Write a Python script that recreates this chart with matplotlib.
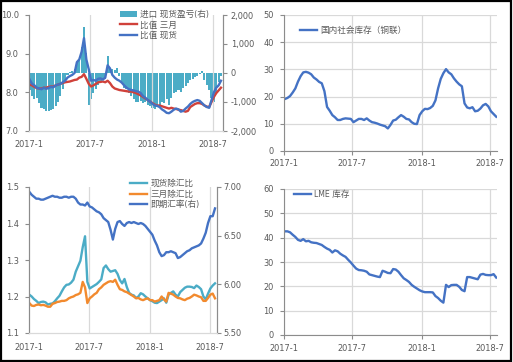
import numpy as np
import pandas as pd
import matplotlib
matplotlib.use("Agg")
import matplotlib.pyplot as plt
from matplotlib import font_manager
from matplotlib.patches import Rectangle
from matplotlib.ticker import FuncFormatter

# pick a narrow latin font if one is there, CJK falls back to Noto
installed = {(f.name, f.stretch) for f in font_manager.fontManager.ttflist}
names = {n for n, s in installed}
if 'Liberation Sans Narrow' in names:
    plt.rcParams['font.family'] = ['Liberation Sans Narrow', 'Noto Sans CJK SC']
    FS = 7.0
elif ('DejaVu Sans', 'condensed') in installed or ('DejaVu Sans', 'semi-condensed') in installed:
    plt.rcParams['font.family'] = ['DejaVu Sans', 'Noto Sans CJK SC']
    plt.rcParams['font.stretch'] = 'condensed'
    FS = 6.6
else:
    plt.rcParams['font.family'] = ['Liberation Sans', 'Noto Sans CJK SC']
    FS = 6.2
LEG_FS = 6.2

# ---- top-left: ratio spot / 3M and import profit (weekly readings) ----
tl_dates = pd.date_range('2017-01-03', periods=82, freq='7D')
ratio_spot = [8.33, 8.22, 8.18, 8.12, 8.10, 8.08, 8.12, 8.09, 8.11, 8.14,
              8.13, 8.18, 8.20, 8.22, 8.26, 8.30, 8.38, 8.42, 8.45, 8.50,
              8.78, 8.85, 9.05, 9.40, 8.85, 8.60, 8.30, 8.32, 8.30, 8.35,
              8.36, 8.33, 8.38, 8.70, 8.62, 8.45, 8.38, 8.33, 8.30, 8.25,
              8.18, 8.12, 8.08, 8.06, 8.05, 8.03, 8.02, 7.98, 7.90, 7.86,
              7.80, 7.76, 7.70, 7.66, 7.65, 7.62, 7.56, 7.52, 7.47, 7.46,
              7.50, 7.55, 7.58, 7.56, 7.50, 7.52, 7.58, 7.63, 7.70, 7.75,
              7.78, 7.80, 7.78, 7.72, 7.66, 7.62, 7.60, 7.80, 8.00, 8.12,
              8.18, 8.30]
ratio_3m = [8.20, 8.18, 8.14, 8.11, 8.10, 8.10, 8.12, 8.12, 8.14, 8.15,
            8.15, 8.18, 8.20, 8.22, 8.24, 8.26, 8.27, 8.28, 8.30, 8.32,
            8.33, 8.38, 8.40, 8.47, 8.35, 8.22, 8.15, 8.18, 8.22, 8.26,
            8.27, 8.28, 8.26, 8.30, 8.24, 8.15, 8.10, 8.08, 8.06, 8.05,
            8.04, 8.03, 8.02, 8.02, 8.00, 7.98, 7.95, 7.92, 7.88, 7.84,
            7.80, 7.76, 7.72, 7.68, 7.66, 7.66, 7.64, 7.62, 7.60, 7.58,
            7.60, 7.58, 7.57, 7.55, 7.54, 7.52, 7.50, 7.52, 7.62, 7.66,
            7.70, 7.72, 7.72, 7.70, 7.66, 7.63, 7.62, 7.75, 7.88, 7.98,
            8.05, 8.12]
import_profit = [-600, -800, -900, -850, -1050, -1200, -1250, -1300, -1300, -1280,
                 -1250, -1150, -1000, -800, -550, -250, -80, 50, 80, 150,
                 350, 500, 900, 1600, 700, -1100, -900, -700, -550, -400,
                 -300, -250, -200, 600, 180, 150, 120, 160, -100, -300,
                 -500, -550, -700, -800, -900, -1000, -1000, -950, -1050, -1000,
                 -1100, -1150, -1200, -1250, -1150, -1100, -1000, -1050, -900, -1100,
                 -850, -700, -650, -600, -650, -500, -450, -350, -250, -200,
                 -150, -100, -50, 60, -250, -400, -600, -850, -1000, -700,
                 -300, -100]

# ---- top-right: domestic social inventory ----
tr_dates = pd.date_range('2017-01-03', periods=81, freq='7D')
social_stock = [19.1, 19.5, 20.2, 21.5, 23.0, 25.5, 27.5, 28.9, 29.1, 28.8,
                28.2, 27.0, 26.3, 25.4, 24.9, 22.0, 16.2, 14.8, 13.2, 12.4,
                11.4, 11.4, 11.8, 12.0, 11.9, 11.8, 10.6, 11.2, 11.8, 11.8,
                11.4, 12.0, 11.2, 10.6, 10.4, 10.1, 9.7, 9.4, 9.1, 8.3,
                9.6, 11.2, 11.5, 12.4, 13.2, 12.6, 11.8, 11.6, 10.6, 10.0,
                9.9, 13.2, 14.6, 15.5, 15.4, 15.8, 16.6, 18.6, 23.0, 26.5,
                28.6, 30.1, 28.9, 28.2, 26.7, 25.5, 24.5, 23.8, 17.5, 16.0,
                15.7, 16.1, 14.6, 14.8, 15.6, 16.8, 17.3, 16.4, 14.6, 13.6,
                12.6]

# ---- bottom-left: ratios ex-FX and spot CNY rate ----
bl_dates = pd.date_range('2017-01-02', periods=81, freq='7D')
spot_fx_ratio = [1.205, 1.200, 1.193, 1.188, 1.182, 1.185, 1.186, 1.184, 1.178, 1.180,
                 1.181, 1.187, 1.195, 1.202, 1.214, 1.225, 1.232, 1.233, 1.238, 1.246,
                 1.268, 1.283, 1.298, 1.335, 1.365, 1.240, 1.222, 1.226, 1.230, 1.234,
                 1.240, 1.247, 1.278, 1.285, 1.275, 1.268, 1.270, 1.272, 1.262, 1.245,
                 1.236, 1.248, 1.226, 1.210, 1.205, 1.203, 1.196, 1.200, 1.209, 1.206,
                 1.200, 1.195, 1.190, 1.187, 1.183, 1.182, 1.186, 1.190, 1.195, 1.183,
                 1.205, 1.210, 1.214, 1.205, 1.200, 1.212, 1.218, 1.224, 1.227, 1.227,
                 1.226, 1.223, 1.230, 1.226, 1.220, 1.200, 1.192, 1.208, 1.222, 1.230,
                 1.236]
m3_fx_ratio = [1.182, 1.175, 1.174, 1.177, 1.178, 1.176, 1.177, 1.175, 1.172, 1.172,
               1.180, 1.182, 1.185, 1.186, 1.188, 1.188, 1.190, 1.195, 1.198, 1.200,
               1.204, 1.206, 1.210, 1.240, 1.225, 1.182, 1.195, 1.200, 1.206, 1.210,
               1.220, 1.225, 1.232, 1.236, 1.240, 1.242, 1.240, 1.246, 1.232, 1.220,
               1.218, 1.214, 1.212, 1.208, 1.204, 1.200, 1.195, 1.196, 1.192, 1.190,
               1.193, 1.195, 1.190, 1.190, 1.186, 1.188, 1.190, 1.200, 1.192, 1.186,
               1.210, 1.208, 1.205, 1.200, 1.196, 1.195, 1.192, 1.190, 1.194, 1.196,
               1.200, 1.205, 1.203, 1.200, 1.198, 1.188, 1.188, 1.196, 1.205, 1.208,
               1.195]
cny_spot = [6.95, 6.92, 6.90, 6.88, 6.88, 6.87, 6.87, 6.88, 6.89, 6.90,
            6.91, 6.90, 6.90, 6.89, 6.89, 6.90, 6.90, 6.89, 6.90, 6.90,
            6.88, 6.84, 6.82, 6.82, 6.81, 6.84, 6.80, 6.79, 6.77, 6.75,
            6.74, 6.72, 6.68, 6.66, 6.64, 6.56, 6.46, 6.57, 6.64, 6.65,
            6.62, 6.60, 6.63, 6.64, 6.63, 6.64, 6.63, 6.62, 6.63, 6.62,
            6.60, 6.57, 6.54, 6.51, 6.45, 6.40, 6.33, 6.29, 6.30, 6.33,
            6.33, 6.34, 6.33, 6.32, 6.27, 6.28, 6.30, 6.32, 6.34, 6.35,
            6.37, 6.38, 6.39, 6.40, 6.42, 6.47, 6.53, 6.63, 6.70, 6.70,
            6.78]

# ---- bottom-right: LME stocks ----
br_dates = pd.date_range('2017-01-03', periods=81, freq='7D')
lme_stock = [42.6, 42.6, 42.2, 41.2, 40.3, 39.1, 38.7, 39.4, 38.5, 38.7,
             38.1, 37.9, 37.8, 37.4, 37.0, 36.2, 35.5, 35.0, 33.9, 34.8,
             34.4, 33.4, 32.7, 32.1, 30.9, 29.8, 28.5, 27.3, 26.7, 26.6,
             26.4, 26.0, 24.9, 24.6, 24.3, 24.0, 23.8, 26.4, 26.0, 25.5,
             25.4, 27.1, 26.9, 26.0, 24.6, 23.3, 22.6, 21.8, 20.6, 19.8,
             19.1, 18.4, 17.9, 17.6, 17.6, 17.6, 17.5, 16.0, 15.2, 14.1,
             13.3, 20.6, 19.7, 20.5, 20.6, 20.6, 19.8, 18.5, 18.0, 23.8,
             23.8, 23.5, 23.2, 22.9, 24.8, 25.1, 24.7, 24.6, 24.6, 25.0,
             23.6]

xticks = pd.to_datetime(['2017-01-01', '2017-07-01', '2018-01-01', '2018-07-01'])
xticklabels = ['2017-1', '2017-7', '2018-1', '2018-7']

TXT = '#595959'
SPINE = '#8c8c8c'
GRID = '#d9d9d9'
BLUE = '#4472C4'
RED = '#D0413A'
AQUA = '#4BACC6'
ORANGE = '#F28A2E'

W, H = 513, 362


def box(l, r, t, b):
    return [l / W, 1 - b / H, (r - l) / W, (b - t) / H]


def style_date_axis(ax, xmax, xlen=0, xpad=7):
    ax.set_xlim(pd.Timestamp('2017-01-01'), pd.Timestamp(xmax))
    ax.set_xticks(xticks)
    ax.set_xticklabels(xticklabels)
    ax.tick_params(axis='x', length=xlen, width=0.8, color=SPINE, pad=xpad,
                   labelsize=FS, colors=TXT)
    ax.tick_params(axis='y', length=3, width=0.8, color=SPINE, labelsize=FS,
                   colors=TXT, pad=4.5)
    ax.spines['top'].set_visible(False)
    for s in ['left', 'right', 'bottom']:
        ax.spines[s].set_color(SPINE)
        ax.spines[s].set_linewidth(0.8)


def add_legend(ax, handles, x, y):
    ax.legend(handles=handles, loc='upper left', bbox_to_anchor=(x, y),
              frameon=False, fontsize=LEG_FS, handlelength=2.0, handletextpad=0.35,
              labelspacing=0.2, borderaxespad=0, borderpad=0, labelcolor=TXT)


fig = plt.figure(figsize=(5.13, 3.62), dpi=100)

# ===== top-left =====
ax1 = fig.add_axes(box(29, 223, 15, 131))
ax1b = ax1.twinx()
ax1.set_zorder(ax1b.get_zorder() + 1)
ax1.patch.set_visible(False)
bars = ax1b.bar(tl_dates, import_profit, width=6.2, color=AQUA, linewidth=0,
                label='进口 现货盈亏(右)')
l_red, = ax1.plot(tl_dates, ratio_3m, color=RED, lw=1.7, label='比值 三月')
l_blue, = ax1.plot(tl_dates, ratio_spot, color=BLUE, lw=1.7, label='比值 现货')
ax1.set_ylim(7.0, 10.0)
ax1.set_yticks([7.0, 8.0, 9.0, 10.0])
ax1.yaxis.set_major_formatter(FuncFormatter(lambda v, p: f'{v:.1f}'))
ax1b.set_ylim(-2000, 2000)
ax1b.set_yticks([-2000, -1000, 0, 1000, 2000])
ax1b.yaxis.set_major_formatter(FuncFormatter(lambda v, p: f'{v:,.0f}'))
style_date_axis(ax1, '2018-07-30', xlen=0, xpad=6.8)
style_date_axis(ax1b, '2018-07-30', xlen=0, xpad=6.8)
ax1.spines['bottom'].set_color(GRID)
ax1b.spines['bottom'].set_color(GRID)
ax1b.tick_params(axis='y', pad=2.5)
for d in xticks[1:]:
    ax1.axvline(d, color=GRID, lw=0.9, zorder=0)
add_legend(ax1, [bars, l_red, l_blue], 0.469, 1.045)

# ===== top-right =====
ax2 = fig.add_axes(box(284, 497, 15, 151))
l_soc, = ax2.plot(tr_dates, social_stock, color=BLUE, lw=1.7, label='国内社会库存（铜联）')
ax2.set_ylim(0, 50)
ax2.set_yticks(range(0, 51, 10))
style_date_axis(ax2, '2018-07-19', xlen=3, xpad=2.5)
ax2.spines['right'].set_visible(False)
ax2.grid(True, color=GRID, lw=0.9)
ax2.set_axisbelow(True)
add_legend(ax2, [l_soc], 0.075, 0.92)

# ===== bottom-left =====
ax3 = fig.add_axes(box(29, 217, 187, 333))
ax3b = ax3.twinx()
l_cny, = ax3b.plot(bl_dates, cny_spot, color=BLUE, lw=1.7, label='即期汇率(右)')
l_aq, = ax3.plot(bl_dates, spot_fx_ratio, color=AQUA, lw=1.7, label='现货除汇比')
l_or, = ax3.plot(bl_dates, m3_fx_ratio, color=ORANGE, lw=1.7, label='三月除汇比')
ax3.set_ylim(1.1, 1.5)
ax3.set_yticks([1.1, 1.2, 1.3, 1.4, 1.5])
ax3.yaxis.set_major_formatter(FuncFormatter(lambda v, p: f'{v:.1f}'))
ax3b.set_ylim(5.5, 7.0)
ax3b.set_yticks([5.5, 6.0, 6.5, 7.0])
ax3b.yaxis.set_major_formatter(FuncFormatter(lambda v, p: f'{v:.2f}'))
style_date_axis(ax3, '2018-07-22', xlen=0, xpad=7.5)
style_date_axis(ax3b, '2018-07-22', xlen=0, xpad=7.5)
ax3.spines['bottom'].set_color(GRID)
ax3b.spines['bottom'].set_color(GRID)
ax3b.tick_params(axis='y', pad=1.5)
for d in xticks[1:]:
    ax3.axvline(d, color=GRID, lw=0.9, zorder=0)
add_legend(ax3, [l_aq, l_or, l_cny], 0.537, 1.055)

# ===== bottom-right =====
ax4 = fig.add_axes(box(284, 497, 189, 335))
l_lme, = ax4.plot(br_dates, lme_stock, color=BLUE, lw=1.7, label='LME 库存')
ax4.set_ylim(0, 60)
ax4.set_yticks(range(0, 61, 10))
style_date_axis(ax4, '2018-07-19', xlen=3, xpad=3.2)
ax4.spines['right'].set_visible(False)
ax4.grid(True, color=GRID, lw=0.9)
ax4.set_axisbelow(True)
add_legend(ax4, [l_lme], 0.047, 0.995)

# outer frame
fig.patches.append(Rectangle((0.002, 0.003), 0.994, 0.994, transform=fig.transFigure,
                             fill=False, edgecolor='black', lw=1.6))

fig.savefig('out.png', dpi=100)
